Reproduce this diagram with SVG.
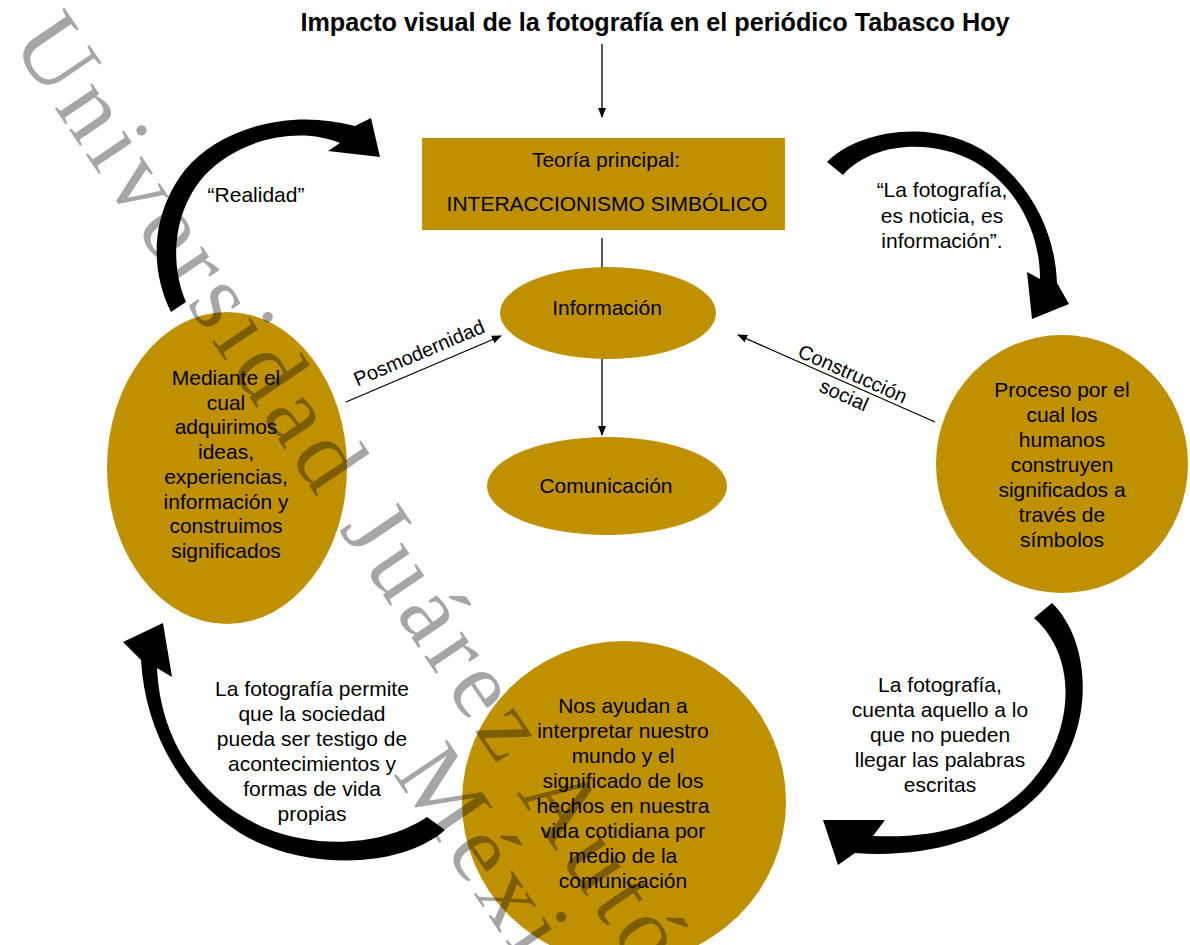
<svg xmlns="http://www.w3.org/2000/svg" width="1190" height="945" viewBox="0 0 1190 945">
<defs>
<marker id="ah" markerWidth="10" markerHeight="10" refX="9" refY="5" orient="auto" markerUnits="userSpaceOnUse"><path d="M0,1 L10,5 L0,9 Z" fill="#000"/></marker>
<style>
.t{font-family:"Liberation Sans",Arial,sans-serif;font-size:21px;fill:#000;text-anchor:middle}
.ttl{font-family:"Liberation Sans",Arial,sans-serif;font-size:25.2px;font-weight:bold;fill:#000;text-anchor:middle}
.n{fill:#BF9000}
.c{stroke:#000;stroke-width:1.3;fill:none}
.ba{fill:#000}
.wm{font-family:"Liberation Serif","Times New Roman",serif;font-size:98px;fill:#000;fill-opacity:0.35;letter-spacing:7px}
</style>
</defs>
<rect width="1190" height="945" fill="#fff"/>
<g id="title"><text class="ttl" x="655" y="31">Impacto visual de la fotografía en el periódico Tabasco Hoy</text></g>
<g id="connectors">
<line class="c" x1="602" y1="44" x2="602" y2="117" marker-end="url(#ah)"/>
<line class="c" x1="602" y1="238" x2="602" y2="272"/>
<line class="c" x1="602" y1="359" x2="602" y2="435" marker-end="url(#ah)"/>
<line class="c" x1="346" y1="402" x2="501" y2="336" marker-end="url(#ah)"/>
<line class="c" x1="935" y1="422" x2="738" y2="335" marker-end="url(#ah)"/>
<path class="ba" d="M171,312 C150,270 150,215 185,170 C220,128 290,108 355,126 L371,118 L380,157 L328,151 L340,143 C300,126 240,138 205,175 C175,208 168,260 186,302 Z"/>
<path class="ba" d="M827,162 C860,128 940,118 990,155 C1030,185 1055,230 1057,283 L1069,304 L1032,319 L1027,272 L1040,279 C1040,230 1015,185 975,162 C935,140 875,140 843,175 Z"/>
<path class="ba" d="M1052,603 C1090,640 1095,720 1055,775 C1020,825 950,860 855,853 L838,865 L823,820 L885,820 L873,836 C960,840 1020,810 1050,755 C1075,705 1070,650 1034,618 Z"/>
<path class="ba" d="M445,830 C400,870 300,870 240,833 C180,795 145,730 141,660 L123,642 L163,623 L172,677 L157,668 C160,740 200,800 265,828 C320,850 385,845 427,817 Z"/>
<g transform="translate(425.6,368.4) rotate(-23)"><text class="t" x="0" y="-10" style="font-size:20px">Posmodernidad</text></g>
<g transform="translate(836.5,378.5) rotate(23.8)"><text class="t" x="13" y="-4" style="font-size:20px">Construcción</text><text class="t" x="13.6" y="19" style="font-size:20px">social</text></g>
<text class="t" x="256" y="202">“Realidad”</text>
<text class="t" x="942" y="197"><tspan x="942">“La fotografía,</tspan><tspan x="942" dy="25.5">es noticia, es</tspan><tspan x="942" dy="25.5">información”.</tspan></text>
<text class="t" x="312" y="696"><tspan x="312">La fotografía permite</tspan><tspan x="312" dy="25">que la sociedad</tspan><tspan x="312" dy="25">pueda ser testigo de</tspan><tspan x="312" dy="25">acontecimientos y</tspan><tspan x="312" dy="25">formas de vida</tspan><tspan x="312" dy="25">propias</tspan></text>
<text class="t" x="940" y="692"><tspan x="940">La fotografía,</tspan><tspan x="940" dy="25">cuenta aquello a lo</tspan><tspan x="940" dy="25">que no pueden</tspan><tspan x="940" dy="25">llegar las palabras</tspan><tspan x="940" dy="25">escritas</tspan></text>
</g>
<g id="teoria"><rect class="n" x="422" y="138" width="363" height="92"/><text class="t" x="606" y="167">Teoría principal:</text><text class="t" x="607" y="211">INTERACCIONISMO SIMBÓLICO</text></g>
<g id="informacion"><ellipse class="n" cx="608" cy="313" rx="108" ry="46"/><text class="t" x="607" y="315">Información</text></g>
<g id="comunicacion"><ellipse class="n" cx="607" cy="486" rx="120" ry="49"/><text class="t" x="606" y="493">Comunicación</text></g>
<g id="mediante"><ellipse class="n" cx="227" cy="468" rx="120" ry="156"/><text class="t" x="226" y="385"><tspan x="226">Mediante el</tspan><tspan x="226" dy="24.7">cual</tspan><tspan x="226" dy="24.7">adquirimos</tspan><tspan x="226" dy="24.7">ideas,</tspan><tspan x="226" dy="24.7">experiencias,</tspan><tspan x="226" dy="24.7">información y</tspan><tspan x="226" dy="24.7">construimos</tspan><tspan x="226" dy="24.7">significados</tspan></text></g>
<g id="proceso"><ellipse class="n" cx="1062" cy="464" rx="126" ry="129"/><text class="t" x="1062" y="397"><tspan x="1062">Proceso por el</tspan><tspan x="1062" dy="25">cual los</tspan><tspan x="1062" dy="25">humanos</tspan><tspan x="1062" dy="25">construyen</tspan><tspan x="1062" dy="25">significados a</tspan><tspan x="1062" dy="25">través de</tspan><tspan x="1062" dy="25">símbolos</tspan></text></g>
<g id="nos"><ellipse class="n" cx="624" cy="802" rx="162" ry="161"/><text class="t" x="623" y="713"><tspan x="623">Nos ayudan a</tspan><tspan x="623" dy="25">interpretar nuestro</tspan><tspan x="623" dy="25">mundo y el</tspan><tspan x="623" dy="25">significado de los</tspan><tspan x="623" dy="25">hechos en nuestra</tspan><tspan x="623" dy="25">vida cotidiana por</tspan><tspan x="623" dy="25">medio de la</tspan><tspan x="623" dy="25">comunicación</tspan></text></g>
<g id="watermark" transform="translate(10,42) rotate(56)"><text class="wm" x="0" y="0">Universidad Juárez Autónoma</text><text class="wm" x="820" y="92">México</text></g>
</svg>
